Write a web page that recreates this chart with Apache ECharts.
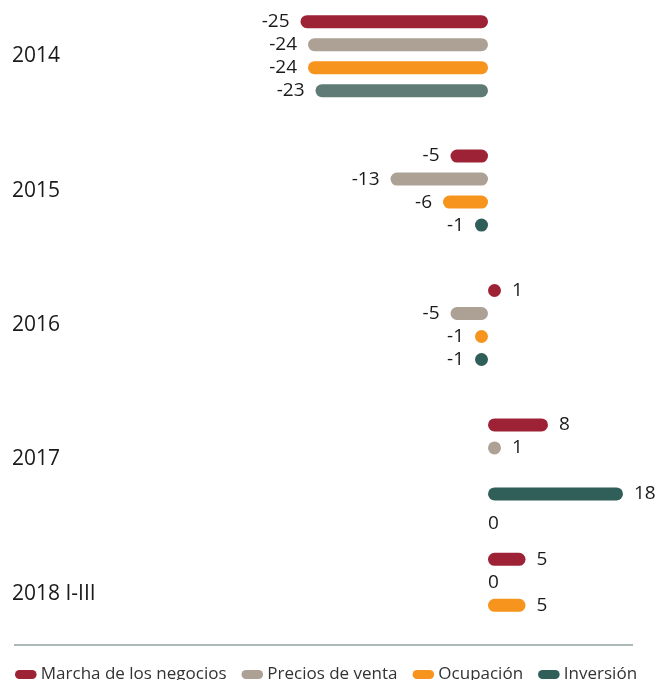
<!DOCTYPE html>
<html>
<head>
<meta charset="utf-8">
<script src="https://cdn.jsdelivr.net/npm/echarts@6/dist/echarts.min.js"></script>
<style>
  html, body { margin: 0; padding: 0; background: #fff; overflow: hidden; }
  #wrap { position: relative; width: 659px; height: 680px; overflow: hidden; }
  /* the plot starts slightly above the visible page */
  #chart { position: absolute; left: 0; top: -11px; width: 659px; height: 691px; }
</style>
</head>
<body>
<div id="wrap"><div id="chart"></div></div>
<script>
// Periods, top to bottom
var categories = ['2014', '2015', '2016', '2017', '2018 I-III'];

// Balance per indicator and period (null = no data)
var marcha    = [-25, -5,  1,  8,    5];
var precios   = [-24, -13, -5, 1,    0];
var ocupacion = [-24, -6,  -1, 0,    5];
var inversion = [-23, -1,  -1, 18, null];

var seriesNames = ['Marcha de los negocios', 'Precios de venta', 'Ocupación', 'Inversión'];
var seriesColors = ['#9e2236', '#ada196', '#f7941d', '#2f5f58'];

var FONT = '"Open Sans", "Noto Sans", sans-serif';

function buildData(values, seriesIdx) {
  return values.map(function (v, i) {
    if (v === null) return { value: null };
    var item = { value: v, label: {} };
    if (v > 0) {
      item.label.position = 'right';
    } else if (v < 0) {
      item.label.position = 'left';
    } else {
      // zero: no pill, only the number at the baseline
      item.itemStyle = { color: 'rgba(0,0,0,0)' };
      item.label.position = 'insideLeft';
      item.label.distance = 0;
      if (seriesIdx === 2 && i === 3) item.label.offset = [0, 53];
    }
    if (seriesIdx === 3 && i === 0) item.itemStyle = { color: '#607b76' };
    return item;
  });
}

var allValues = [marcha, precios, ocupacion, inversion];

var series = allValues.map(function (vals, k) {
  return {
    name: seriesNames[k],
    type: 'bar',
    data: buildData(vals, k),
    barWidth: 13,
    barGap: '77%',
    barMinHeight: 13,
    itemStyle: { color: seriesColors[k], borderRadius: 6.5 },
    label: {
      show: true,
      distance: 11,
      color: '#1a1a1a',
      fontSize: 19,
      fontFamily: FONT
    },
    emphasis: { disabled: true }
  };
});

var chart = echarts.init(document.getElementById('chart'), null, { renderer: 'canvas' });
chart.setOption({
  animation: false,
  grid: { left: 263, right: 21, top: 0, bottom: 19 },
  xAxis: {
    type: 'value',
    min: -30,
    max: 20,
    show: false
  },
  yAxis: {
    type: 'category',
    inverse: true,
    data: categories,
    axisLine: { show: false },
    axisTick: { show: false },
    splitLine: { show: false },
    axisLabel: {
      align: 'left',
      margin: 251,
      fontSize: 21,
      padding: [5, 0, 0, 0],
      color: '#1a1a1a',
      fontFamily: FONT
    }
  },
  legend: {
    left: 10,
    top: 672,
    itemWidth: 24,
    itemHeight: 9,
    itemGap: 15,
    icon: 'path://M5,0 L19,0 A5,5 0 0 1 19,10 L5,10 A5,5 0 0 1 5,0 Z',
    textStyle: { fontSize: 17, color: '#333', fontFamily: FONT, padding: [0, 0, 0, -2] },
    data: seriesNames,
    selectedMode: false
  },
  graphic: [{
    type: 'line',
    shape: { x1: 14, y1: 656, x2: 633, y2: 656 },
    style: { stroke: '#8fa3a0', lineWidth: 1.5 }
  }],
  series: series
});
</script>
</body>
</html>
